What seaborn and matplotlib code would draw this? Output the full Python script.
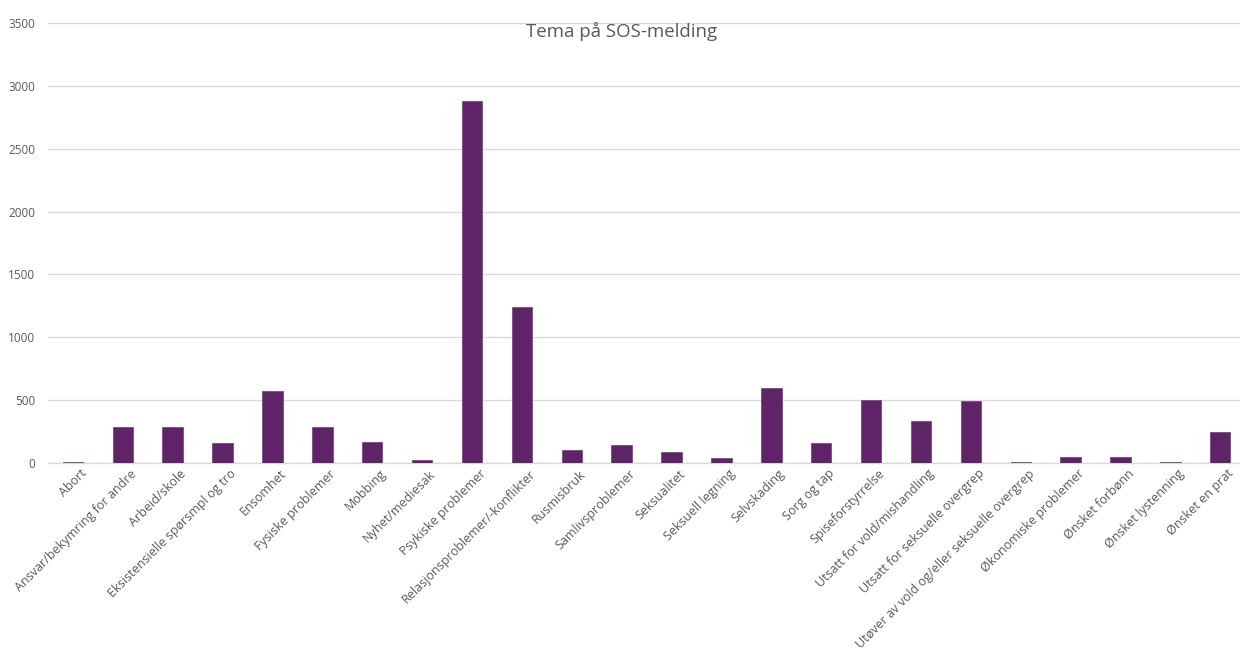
import matplotlib
matplotlib.use("Agg")
import matplotlib.pyplot as plt
import matplotlib.transforms as mtransforms
import seaborn as sns
import pandas as pd

categories = [
    "Abort", "Ansvar/bekymring for andre", "Arbeid/skole",
    "Eksistensielle spørsmpl og tro", "Ensomhet", "Fysiske problemer",
    "Mobbing", "Nyhet/mediesak", "Psykiske problemer",
    "Relasjonsproblemer/-konflikter", "Rusmisbruk", "Samlivsproblemer",
    "Seksualitet", "Seksuell legning", "Selvskading", "Sorg og tap",
    "Spiseforstyrrelse", "Utsatt for vold/mishandling",
    "Utsatt for seksuelle overgrep", "Utøver av vold og/eller seksuelle overgrep",
    "Økonomiske problemer", "Ønsket forbønn", "Ønsket lystenning", "Ønsket en prat",
]
values = [5, 289, 289, 160, 575, 289, 168, 21, 2880, 1240, 104, 142, 88, 40,
          593, 160, 505, 337, 495, 11, 48, 48, 11, 243]
yticks = [0, 500, 1000, 1500, 2000, 2500, 3000, 3500]
title = "Tema på SOS-melding"

sns.set_theme(style="white")
plt.rcParams["font.family"] = ["Open Sans", "DejaVu Sans"]

df = pd.DataFrame({"Tema": categories, "Antall": values})

fig = plt.figure(figsize=(12.4, 6.48), dpi=100)
ax = fig.add_axes([0.0387, 0.2855, 0.9655, 0.679])
sns.barplot(data=df, x="Tema", y="Antall", color="#5F2468", width=0.41,
            saturation=1, ax=ax, edgecolor="#7a4a80", linewidth=0.6, zorder=3)

ax.set_ylim(0, 3500)
ax.set_yticks(yticks)
ax.set_yticklabels([str(t) for t in yticks])
ax.set_xlim(-0.5, len(categories) - 0.5)
ax.grid(axis="y", color="#d9d9d9", linewidth=1.0, zorder=0)
ax.set_axisbelow(True)
for s in ["top", "right", "left"]:
    ax.spines[s].set_visible(False)
ax.spines["bottom"].set_color("#d9d9d9")
ax.spines["bottom"].set_linewidth(1.0)
ax.tick_params(axis="both", length=0, colors="#595959")
ax.tick_params(axis="y", pad=9, labelsize=8.5)
ax.tick_params(axis="x", pad=3, labelsize=9)
ax.set_xlabel("")
ax.set_ylabel("")
plt.setp(ax.get_xticklabels(), rotation=45, ha="right", rotation_mode="anchor",
         color="#595959")
offset = mtransforms.ScaledTranslation(7 / 100, 0, fig.dpi_scale_trans)
for lbl in ax.get_xticklabels():
    lbl.set_transform(lbl.get_transform() + offset)

fig.text(0.5015, 0.951, title, ha="center", va="center", fontsize=13.4,
         color="#595959")

fig.savefig("out.png", dpi=100)
